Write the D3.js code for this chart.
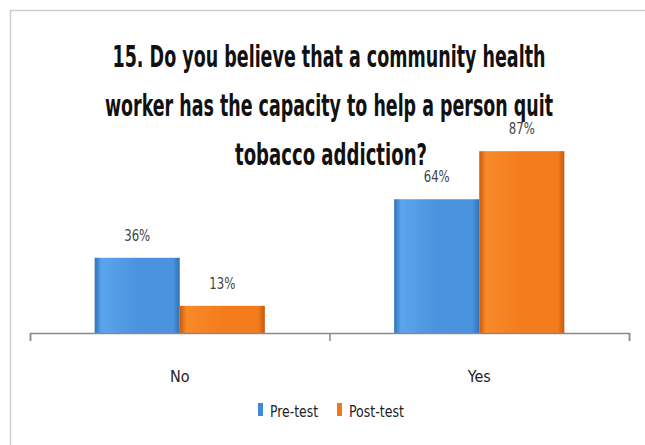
<!DOCTYPE html>
<html>
<head>
<meta charset="utf-8">
<script src="https://cdn.jsdelivr.net/npm/d3@7"></script>
<style>
  body { margin: 0; background: #fff; }
  text { font-family: "Liberation Sans Narrow", "DejaVu Sans Condensed", sans-serif; }
</style>
</head>
<body>
<svg id="chart"></svg>
<script>
const width = 645;
const height = 445;

const categories = ["No", "Yes"];
const series = ["Pre-test", "Post-test"];
const preTest = [36, 64];
const postTest = [13, 87];
const titleLines = [
  "15. Do you believe that a community health",
  "worker has the capacity to help a person quit",
  "tobacco addiction?"
];

const values = {"Pre-test": preTest, "Post-test": postTest};

const svg = d3.select("#chart")
              .attr("width", width)
              .attr("height", height);

// outer frame
svg.append("rect")
   .attr("x", 10.5)
   .attr("y", 10.5)
   .attr("width", 700)
   .attr("height", 500)
   .attr("fill", "none")
   .attr("stroke", "#cfcfcf")
   .attr("stroke-width", 1.5);

const defs = svg.append("defs");
const grads = [
  {id: "gPre", edge: "#2f72b8", mid: "#4a93de", light: "#5aa5ee"},
  {id: "gPost", edge: "#c85a0c", mid: "#f47c1c", light: "#f88a2a"}
];
grads.forEach(g => {
  const lg = defs.append("linearGradient").attr("id", g.id)
                 .attr("x1", 0).attr("x2", 1).attr("y1", 0).attr("y2", 0);
  lg.append("stop").attr("offset", "0%").attr("stop-color", g.edge);
  lg.append("stop").attr("offset", "8%").attr("stop-color", g.light);
  lg.append("stop").attr("offset", "50%").attr("stop-color", g.mid);
  lg.append("stop").attr("offset", "92%").attr("stop-color", g.mid);
  lg.append("stop").attr("offset", "100%").attr("stop-color", g.edge);
});
const fillFor = {"Pre-test": "url(#gPre)", "Post-test": "url(#gPost)"};
const solidFor = {"Pre-test": "#3f88d6", "Post-test": "#f07818"};

const x = d3.scaleBand()
            .domain(categories)
            .range([30, 629]);

const xSeries = d3.scaleBand()
                  .domain(series)
                  .range([0, x.bandwidth()])
                  .paddingInner(0)
                  .paddingOuter(0.76);

const y = d3.scaleLinear()
            .domain([0, 100])
            .range([333, 124]);

const barData = [];
categories.forEach((c, ci) => {
  series.forEach(s => barData.push({cat: c, ser: s, val: values[s][ci]}));
});

const bars = svg.append("g");
bars.selectAll("rect")
    .data(barData)
    .enter()
    .append("rect")
    .attr("x", d => x(d.cat) + xSeries(d.ser))
    .attr("y", d => y(d.val))
    .attr("width", xSeries.bandwidth())
    .attr("height", d => y(0) - y(d.val))
    .attr("fill", d => fillFor[d.ser]);

bars.selectAll("text")
    .data(barData)
    .enter()
    .append("text")
    .attr("x", d => x(d.cat) + xSeries(d.ser) + xSeries.bandwidth() / 2)
    .attr("y", d => y(d.val) - 17)
    .attr("text-anchor", "middle")
    .attr("textLength", 26)
    .attr("lengthAdjust", "spacingAndGlyphs")
    .style("font-size", "16px")
    .style("fill", "#444")
    .text(d => d.val + "%");

// title
const titleWidths = [433, 448, 192];
svg.append("g")
   .selectAll("text")
   .data(titleLines)
   .enter()
   .append("text")
   .attr("x", (d, i) => i === 2 ? 331 : 329)
   .attr("y", (d, i) => 67 + i * 49)
   .attr("text-anchor", "middle")
   .attr("textLength", (d, i) => titleWidths[i])
   .attr("lengthAdjust", "spacingAndGlyphs")
   .style("font-size", "30px")
   .style("font-weight", "bold")
   .style("fill", "#111")
   .text(d => d);

// axis with boundary ticks
const xEdges = d3.scaleLinear().domain([0, categories.length]).range([30, 629]);
svg.append("g")
   .attr("transform", "translate(0,333)")
   .call(d3.axisBottom(xEdges).ticks(categories.length).tickFormat("").tickSize(8).tickSizeOuter(8))
   .call(g => g.selectAll("line, path").attr("stroke", "#8a8a8a").attr("stroke-width", 1.5));

svg.append("g")
   .selectAll("text")
   .data(categories)
   .enter()
   .append("text")
   .attr("x", d => x(d) + x.bandwidth() / 2)
   .attr("y", 382)
   .attr("text-anchor", "middle")
   .style("font-size", "16px")
   .style("fill", "#222")
   .text(d => d);

// legend
const legendX = [258, 337];
const legendW = [48, 55];
const legend = svg.append("g")
                  .selectAll("g")
                  .data(series)
                  .enter()
                  .append("g")
                  .attr("transform", (d, i) => "translate(" + legendX[i] + ",403)");
legend.append("rect")
      .attr("width", 5)
      .attr("height", 13)
      .attr("fill", d => solidFor[d]);
legend.append("text")
      .attr("x", 12)
      .attr("y", 14)
      .attr("textLength", (d, i) => legendW[i])
      .attr("lengthAdjust", "spacingAndGlyphs")
      .style("font-size", "16px")
      .style("fill", "#222")
      .text(d => d);
</script>
</body>
</html>
